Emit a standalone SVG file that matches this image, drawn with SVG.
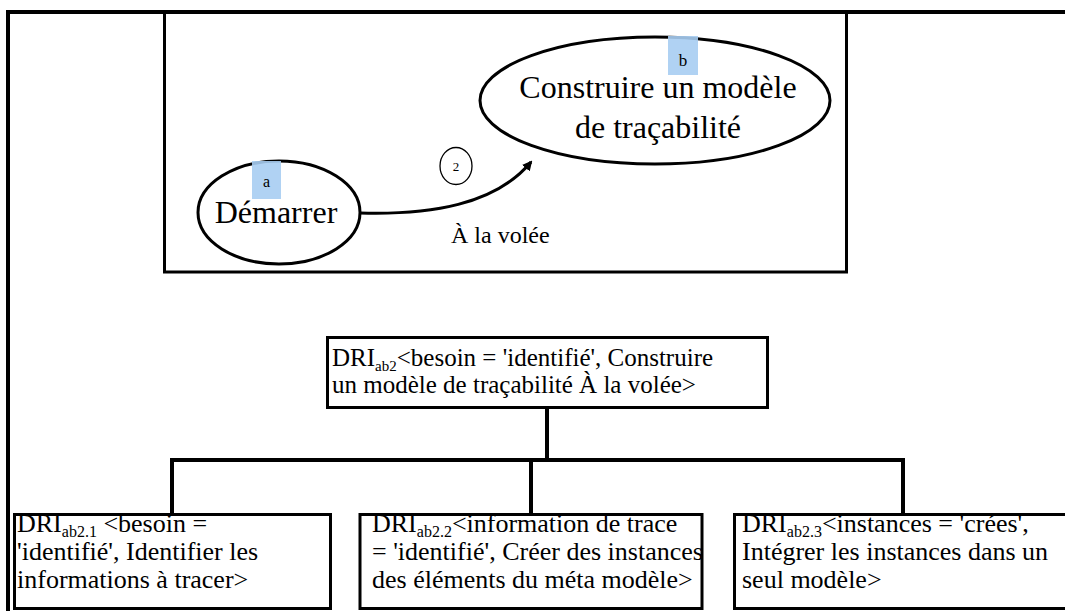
<svg xmlns="http://www.w3.org/2000/svg" width="1065" height="611" viewBox="0 0 1065 611">
<style>
text{font-family:'Liberation Serif','DejaVu Serif',serif;fill:#000}
.box{fill:#fff;stroke:#000;stroke-width:3}
.ell{fill:#fff;stroke:#000;stroke-width:3}
.lab{fill:#a7cdf2;opacity:0.9}
.con{fill:none;stroke:#000;stroke-width:4}
</style>
<defs>
<marker id="ah" markerWidth="10" markerHeight="10" refX="8" refY="5" orient="auto" markerUnits="userSpaceOnUse">
<path d="M0,0 L10,5 L0,10 Z" fill="#000"/>
</marker>
</defs>
<rect width="1065" height="611" fill="#fff"/>
<g id="frame">
<path d="M8,611 V12 H1065" fill="none" stroke="#000" stroke-width="4"/>
<rect x="164.5" y="12" width="682" height="260" fill="none" stroke="#000" stroke-width="3"/>
</g>
<g id="connectors">
<path d="M360,213 C430,215 495,205 531,162" fill="none" stroke="#000" stroke-width="3" marker-end="url(#ah)"/>
<path class="con" d="M547,407 V460 M172,460 H903 M172,458 V514 M531,460 V514 M903,458 V514"/>
</g>
<g id="node-a" font-family="Liberation Serif, serif">
<ellipse class="ell" cx="279" cy="212.5" rx="81" ry="51.5"/>
<rect class="lab" x="252" y="161" width="29" height="38"/>
<text x="266.5" y="187" font-size="16" text-anchor="middle">a</text>
<text x="276" y="223" font-size="32" text-anchor="middle">Démarrer</text>
</g>
<g id="node-b" font-family="Liberation Serif, serif">
<ellipse class="ell" cx="655" cy="100.5" rx="175" ry="63.5"/>
<rect class="lab" x="668" y="36" width="30" height="39"/>
<text x="683" y="66" font-size="17" text-anchor="middle">b</text>
<text x="658" y="98" font-size="32" text-anchor="middle">Construire un modèle</text>
<text x="658" y="138" font-size="32" text-anchor="middle">de traçabilité</text>
</g>
<g id="edge-label" font-family="Liberation Serif, serif">
<ellipse cx="456" cy="166" rx="16" ry="18.5" fill="#fff" stroke="#000" stroke-width="1.3"/>
<text x="456" y="171" font-size="13" text-anchor="middle">2</text>
<text x="451" y="243" font-size="24">À la volée</text>
</g>
<g id="dri-ab2" font-family="Liberation Serif, serif">
<rect class="box" x="327.5" y="337.5" width="440" height="70"/>
<text x="332" y="366" font-size="25">DRI<tspan font-size="15" dy="5">ab2</tspan><tspan dy="-5">&lt;besoin = 'identifié', Construire</tspan></text>
<text x="332" y="393" font-size="25">un modèle de traçabilité À la volée&gt;</text>
</g>
<g id="dri-ab2-1" font-family="Liberation Serif, serif">
<rect class="box" x="14.5" y="514.5" width="316" height="94"/>
<text x="17" y="532" font-size="26">DRI<tspan font-size="16" dy="5">ab2.1</tspan><tspan dy="-5"> &lt;besoin =</tspan></text>
<text x="17" y="560" font-size="26">'identifié', Identifier les</text>
<text x="17" y="588" font-size="26">informations à tracer&gt;</text>
</g>
<g id="dri-ab2-2" font-family="Liberation Serif, serif">
<rect class="box" x="360" y="514.5" width="342" height="94"/>
<text x="372" y="532" font-size="26">DRI<tspan font-size="16" dy="5">ab2.2</tspan><tspan dy="-5">&lt;information de trace</tspan></text>
<text x="372" y="560" font-size="26">= 'identifié', Créer des instances</text>
<text x="372" y="588" font-size="26">des éléments du méta modèle&gt;</text>
</g>
<g id="dri-ab2-3" font-family="Liberation Serif, serif">
<rect class="box" x="734.5" y="514.5" width="340" height="94"/>
<text x="742" y="532" font-size="26">DRI<tspan font-size="16" dy="5">ab2.3</tspan><tspan dy="-5">&lt;instances = 'crées',</tspan></text>
<text x="742" y="560" font-size="26">Intégrer les instances dans un</text>
<text x="742" y="588" font-size="26">seul modèle&gt;</text>
</g>
</svg>
